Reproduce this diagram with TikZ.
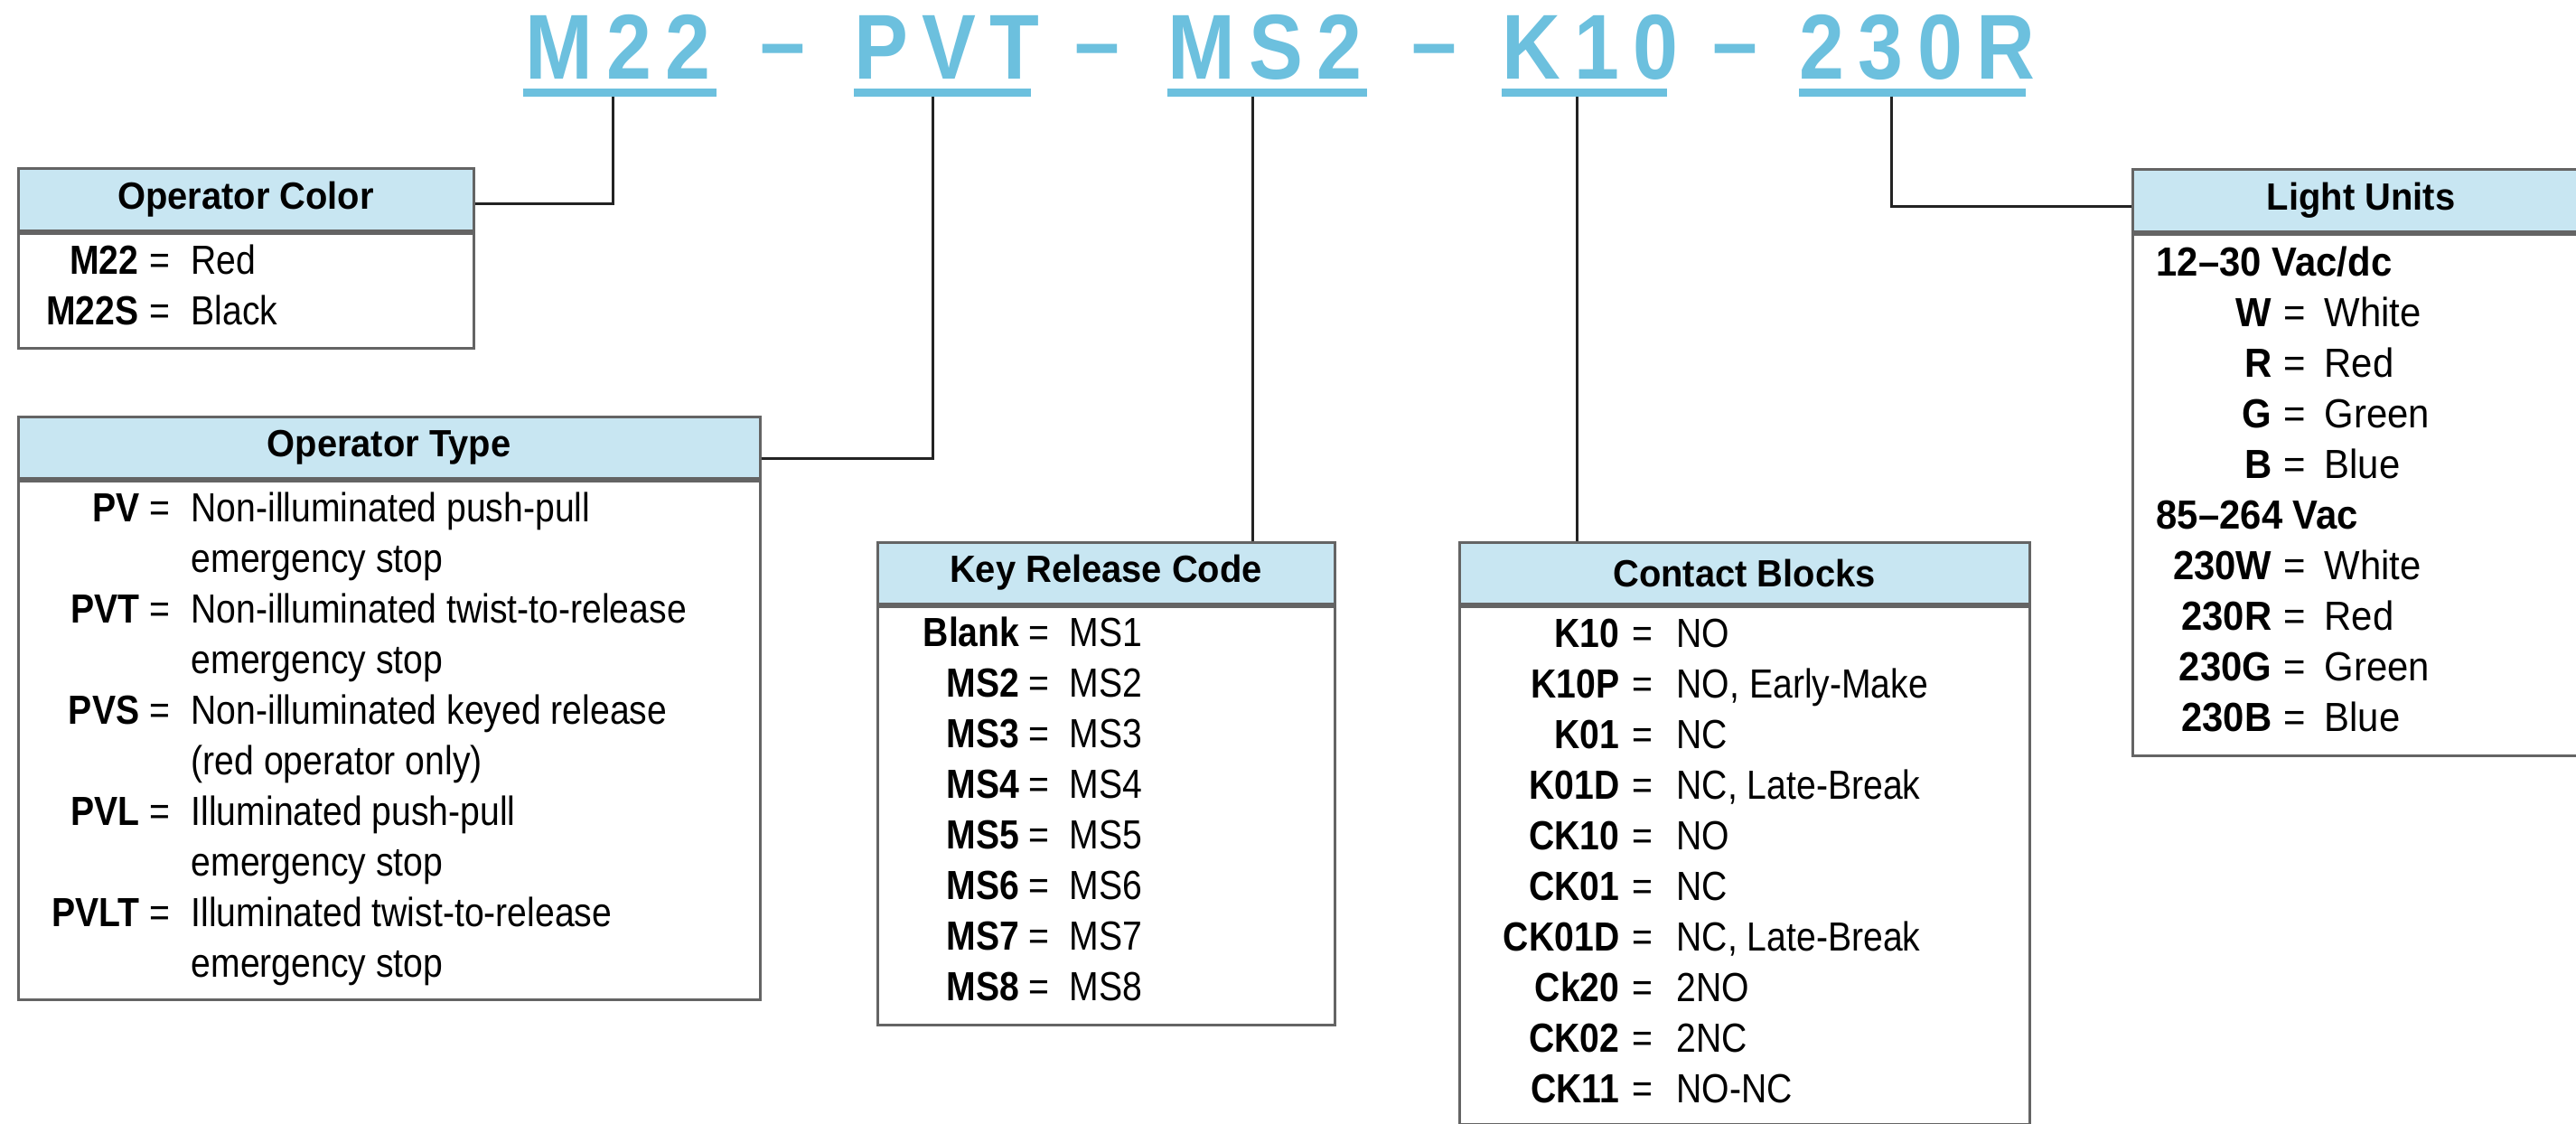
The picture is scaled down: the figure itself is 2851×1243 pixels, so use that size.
\documentclass[tikz,border=0pt]{standalone}
\usepackage{fontspec}
\setmainfont{Liberation Sans}
\newfontfamily\bodyfont[FakeStretch=0.87]{Liberation Sans}
\newfontfamily\lufont[FakeStretch=0.93]{Liberation Sans}
\newfontfamily\headfont[FakeStretch=0.95]{Liberation Sans}
\newfontfamily\codefont[FakeStretch=0.88,LetterSpace=15]{Liberation Sans}
\usetikzlibrary{calc}

\newdimen\pxu \pxu=0.3pt
\definecolor{codeblue}{RGB}{108,192,222}
\definecolor{headblue}{RGB}{200,230,242}
\definecolor{boxgray}{RGB}{100,100,100}
\definecolor{wireblack}{RGB}{35,35,35}

\tikzset{
	codetext/.style={anchor=base west, inner sep=0, text=codeblue, font=\codefont\bfseries\fontsize{30.6}{36}\selectfont},
	codebar/.style={fill=codeblue, inner sep=0, minimum height=9\pxu},
	headbox/.style={draw=boxgray, fill=headblue, line width=0.9pt, inner sep=0, minimum height=68\pxu, font=\headfont\bfseries\fontsize{12.6}{15}\selectfont},
	bodybox/.style={draw=boxgray, line width=0.9pt, inner sep=0, anchor=north},
	lab/.style={anchor=base east, inner sep=0, font=\bodyfont\bfseries\fontsize{13.5}{16}\selectfont},
	eq/.style={anchor=base, inner sep=0, font=\bodyfont\fontsize{13.5}{16}\selectfont},
	val/.style={anchor=base west, inner sep=0, font=\bodyfont\fontsize{13.5}{16}\selectfont},
	wire/.style={draw=wireblack, line width=0.9pt}
}

\begin{document}
\begin{tikzpicture}[x=0.3pt, y=-0.3pt]
	\clip (0,0) rectangle (2851,1243);
	\fill[white] (0,0) rectangle (2851,1243);

	% part number
	\node[codetext] (code-m22) at (581,88) {M22};
	\node[codetext] (dash1) at (841,82) {–};
	\node[codetext] (code-pvt) at (945,88) {PVT};
	\node[codetext] (dash2) at (1189,82) {–};
	\node[codetext] (code-ms2) at (1292,88) {MS2};
	\node[codetext] (dash3) at (1562,82) {–};
	\node[codetext] (code-k10) at (1662,88) {K10};
	\node[codetext] (dash4) at (1895,82) {–};
	\node[codetext] (code-230r) at (1991,88) {230R};

	\node[codebar, minimum width=214\pxu] (bar-m22) at (686,102.5) {};
	\node[codebar, minimum width=196\pxu] (bar-pvt) at (1043,102.5) {};
	\node[codebar, minimum width=221\pxu] (bar-ms2) at (1402.5,102.5) {};
	\node[codebar, minimum width=183\pxu] (bar-k10) at (1753.5,102.5) {};
	\node[codebar, minimum width=251\pxu] (bar-230r) at (2116.5,102.5) {};

	\coordinate (j-m22) at (678,107);
	\coordinate (j-pvt) at (1032,107);
	\coordinate (j-ms2) at (1386,107);
	\coordinate (j-k10) at (1745,107);
	\coordinate (j-230r) at (2093,107);

	% boxes
	\node[headbox, minimum width=504\pxu] (ochead) at (272,221) {Operator Color};
	\node[bodybox, minimum width=504\pxu, minimum height=127\pxu] (ocbody) at (ochead.south) {};
	\node[headbox, minimum width=821\pxu] (othead) at (430.5,495) {Operator Type};
	\node[bodybox, minimum width=821\pxu, minimum height=574\pxu] (otbody) at (othead.south) {};
	\node[headbox, minimum width=506\pxu] (krhead) at (1224,634) {Key Release Code};
	\node[bodybox, minimum width=506\pxu, minimum height=463\pxu] (krbody) at (krhead.south) {};
	\node[headbox, minimum width=631\pxu] (cbhead) at (1930.5,634) {Contact Blocks};
	\node[bodybox, minimum width=631\pxu, minimum height=573\pxu] (cbbody) at (cbhead.south) {};
	\node[headbox, minimum width=506\pxu] (luhead) at (2613,222) {Light Units};
	\node[bodybox, minimum width=506\pxu, minimum height=577\pxu] (lubody) at (luhead.south) {};

	% leaders
	\draw[wire] (j-m22) |- ($(ochead.east)+(0,4)$);
	\draw[wire] (j-pvt) |- ($(othead.east)+(0,12)$);
	\draw[wire] (j-ms2) -- (j-ms2 |- krhead.north);
	\draw[wire] (j-k10) -- (j-k10 |- cbhead.north);
	\draw[wire] (j-230r) |- ($(luhead.west)+(0,6)$);

	% Operator Color
	\foreach \lab/\val [count=\i] in {M22/Red, M22S/Black}{
		\node[lab] (oc-l\i) at (154,247+56*\i) {\lab};
		\node[eq] (oc-e\i) at (177,247+56*\i) {=};
		\node[val] (oc-v\i) at (211,247+56*\i) {\val};
	}

	% Operator Type
	\foreach \lab/\vala/\valb [count=\i] in {PV/Non-illuminated push-pull/emergency stop,
		PVT/Non-illuminated twist-to-release/emergency stop,
		PVS/Non-illuminated keyed release/(red operator only),
		PVL/Illuminated push-pull/emergency stop,
		PVLT/Illuminated twist-to-release/emergency stop}{
		\node[lab] (ot-l\i) at (155,465+112*\i) {\lab};
		\node[eq] (ot-e\i) at (176.5,465+112*\i) {=};
		\node[val] (ot-v\i) at (211,465+112*\i) {\vala};
		\node[val] (ot-w\i) at (211,521+112*\i) {\valb};
	}

	% Key Release Code
	\foreach \lab/\val [count=\i] in {Blank/MS1, MS2/MS2, MS3/MS3, MS4/MS4, MS5/MS5, MS6/MS6, MS7/MS7, MS8/MS8}{
		\node[lab] (kr-l\i) at (1129,659+56*\i) {\lab};
		\node[eq] (kr-e\i) at (1150,659+56*\i) {=};
		\node[val] (kr-v\i) at (1183,659+56*\i) {\val};
	}

	% Contact Blocks
	\foreach \lab/\val [count=\i] in {K10/NO, K10P/{NO, Early-Make}, K01/NC, K01D/{NC, Late-Break},
		CK10/NO, CK01/NC, CK01D/{NC, Late-Break}, Ck20/2NO, CK02/2NC, CK11/NO-NC}{
		\node[lab] (cb-l\i) at (1793,660+56*\i) {\lab};
		\node[eq] (cb-e\i) at (1818,660+56*\i) {=};
		\node[val] (cb-v\i) at (1855,660+56*\i) {\val};
	}

	% Light Units
	\node[val, font=\lufont\bfseries\fontsize{13.5}{16}\selectfont] (lu-h1) at (2386,305) {12–30 Vac/dc};
	\node[val, font=\lufont\bfseries\fontsize{13.5}{16}\selectfont] (lu-h2) at (2386,585) {85–264 Vac};
	\foreach \lab/\val [count=\i] in {W/White, R/Red, G/Green, B/Blue}{
		\node[lab, font=\lufont\bfseries\fontsize{13.5}{16}\selectfont] (lu-l\i) at (2515,305+56*\i) {\lab};
		\node[eq, font=\lufont\fontsize{13.5}{16}\selectfont] (lu-e\i) at (2540,305+56*\i) {=};
		\node[val, font=\lufont\fontsize{13.5}{16}\selectfont] (lu-v\i) at (2572,305+56*\i) {\val};
	}
	\foreach \lab/\val [count=\i] in {230W/White, 230R/Red, 230G/Green, 230B/Blue}{
		\node[lab, font=\lufont\bfseries\fontsize{13.5}{16}\selectfont] (lu-m\i) at (2515,585+56*\i) {\lab};
		\node[eq, font=\lufont\fontsize{13.5}{16}\selectfont] (lu-f\i) at (2540,585+56*\i) {=};
		\node[val, font=\lufont\fontsize{13.5}{16}\selectfont] (lu-w\i) at (2572,585+56*\i) {\val};
	}
\end{tikzpicture}
\end{document}
